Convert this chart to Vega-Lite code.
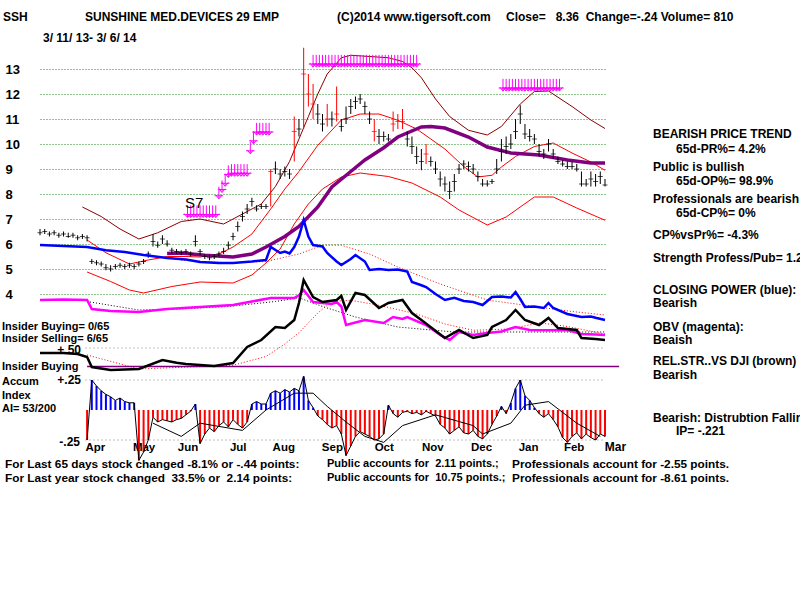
{
"$schema":"https://vega.github.io/schema/vega-lite/v6.json",
"width":565,"height":400,"autosize":"none",
"padding":{"left":40,"top":40,"right":195,"bottom":160},
"background":"white",
"config":{"view":{"stroke":null},"font":"Liberation Sans","text":{"font":"Liberation Sans","color":"black"}},
"datasets":{
"bars":[
{"d":"2013-03-11","hi":6.6,"lo":6.35,"cl":6.45,"m":"dn"},
{"d":"2013-03-14","hi":6.6,"lo":6.4,"cl":6.5,"m":"dn"},
{"d":"2013-03-17","hi":6.5,"lo":6.3,"cl":6.4,"m":"dn"},
{"d":"2013-03-20","hi":6.55,"lo":6.35,"cl":6.45,"m":"dn"},
{"d":"2013-03-23","hi":6.45,"lo":6.25,"cl":6.35,"m":"dn"},
{"d":"2013-03-26","hi":6.5,"lo":6.3,"cl":6.4,"m":"dn"},
{"d":"2013-03-29","hi":6.45,"lo":6.25,"cl":6.3,"m":"dn"},
{"d":"2013-04-01","hi":6.45,"lo":6.25,"cl":6.35,"m":"dn"},
{"d":"2013-04-04","hi":6.35,"lo":6.15,"cl":6.25,"m":"dn"},
{"d":"2013-04-07","hi":6.4,"lo":6.2,"cl":6.3,"m":"dn"},
{"d":"2013-04-10","hi":6.35,"lo":6.1,"cl":6.25,"m":"dn"},
{"d":"2013-04-13","hi":5.4,"lo":5.2,"cl":5.3,"m":"dn"},
{"d":"2013-04-16","hi":5.35,"lo":5.15,"cl":5.25,"m":"dn"},
{"d":"2013-04-19","hi":5.3,"lo":5.1,"cl":5.2,"m":"dn"},
{"d":"2013-04-22","hi":5.2,"lo":4.95,"cl":5.05,"m":"dn"},
{"d":"2013-04-25","hi":5.15,"lo":4.9,"cl":5.0,"m":"dn"},
{"d":"2013-04-28","hi":5.2,"lo":5.0,"cl":5.1,"m":"dn"},
{"d":"2013-05-01","hi":5.25,"lo":5.05,"cl":5.15,"m":"dn"},
{"d":"2013-05-04","hi":5.2,"lo":5.0,"cl":5.1,"m":"dn"},
{"d":"2013-05-07","hi":5.25,"lo":5.05,"cl":5.15,"m":"dn"},
{"d":"2013-05-10","hi":5.2,"lo":5.0,"cl":5.1,"m":"dn"},
{"d":"2013-05-13","hi":5.3,"lo":5.1,"cl":5.2,"m":"dn"},
{"d":"2013-05-16","hi":5.4,"lo":5.2,"cl":5.3,"m":"dn"},
{"d":"2013-05-19","hi":5.7,"lo":5.45,"cl":5.6,"m":"dn"},
{"d":"2013-05-22","hi":6.4,"lo":5.9,"cl":6.1,"m":"dn"},
{"d":"2013-05-25","hi":6.1,"lo":5.85,"cl":5.95,"m":"dn"},
{"d":"2013-05-28","hi":6.35,"lo":6.0,"cl":6.2,"m":"dn"},
{"d":"2013-05-31","hi":6.15,"lo":5.9,"cl":6.0,"m":"dn"},
{"d":"2013-06-03","hi":5.85,"lo":5.6,"cl":5.75,"m":"dn"},
{"d":"2013-06-06","hi":5.8,"lo":5.6,"cl":5.7,"m":"dn"},
{"d":"2013-06-09","hi":5.75,"lo":5.55,"cl":5.65,"m":"dn"},
{"d":"2013-06-12","hi":5.8,"lo":5.6,"cl":5.7,"m":"dn"},
{"d":"2013-06-15","hi":5.7,"lo":5.5,"cl":5.6,"m":"dn"},
{"d":"2013-06-18","hi":6.35,"lo":5.9,"cl":6.1,"m":"dn"},
{"d":"2013-06-21","hi":5.8,"lo":5.55,"cl":5.7,"m":"dn"},
{"d":"2013-06-24","hi":5.6,"lo":5.4,"cl":5.5,"m":"dn"},
{"d":"2013-06-27","hi":5.55,"lo":5.35,"cl":5.45,"m":"dn"},
{"d":"2013-06-30","hi":5.6,"lo":5.4,"cl":5.5,"m":"dn"},
{"d":"2013-07-03","hi":5.7,"lo":5.5,"cl":5.6,"m":"dn"},
{"d":"2013-07-06","hi":5.85,"lo":5.6,"cl":5.7,"m":"dn"},
{"d":"2013-07-09","hi":6.1,"lo":5.8,"cl":5.95,"m":"dn"},
{"d":"2013-07-12","hi":6.45,"lo":6.15,"cl":6.3,"m":"dn"},
{"d":"2013-07-15","hi":6.9,"lo":6.5,"cl":6.7,"m":"dn"},
{"d":"2013-07-18","hi":7.3,"lo":6.9,"cl":7.1,"m":"dn"},
{"d":"2013-07-21","hi":7.6,"lo":7.2,"cl":7.4,"m":"dn"},
{"d":"2013-07-24","hi":7.85,"lo":7.5,"cl":7.7,"m":"dn"},
{"d":"2013-07-27","hi":7.55,"lo":7.3,"cl":7.4,"m":"dn"},
{"d":"2013-07-30","hi":7.6,"lo":7.4,"cl":7.5,"m":"dn"},
{"d":"2013-08-02","hi":7.6,"lo":7.4,"cl":7.5,"m":"dn"},
{"d":"2013-08-05","hi":9.0,"lo":7.5,"cl":8.9,"m":"up"},
{"d":"2013-08-08","hi":9.3,"lo":8.8,"cl":9.0,"m":"dn"},
{"d":"2013-08-11","hi":9.0,"lo":8.6,"cl":8.8,"m":"dn"},
{"d":"2013-08-14","hi":9.1,"lo":8.7,"cl":8.9,"m":"dn"},
{"d":"2013-08-17","hi":9.0,"lo":8.6,"cl":8.8,"m":"dn"},
{"d":"2013-08-20","hi":11.1,"lo":9.3,"cl":10.5,"m":"up"},
{"d":"2013-08-23","hi":11.0,"lo":10.3,"cl":10.6,"m":"dn"},
{"d":"2013-08-26","hi":13.85,"lo":10.6,"cl":12.8,"m":"up"},
{"d":"2013-08-29","hi":12.8,"lo":11.5,"cl":12.0,"m":"up"},
{"d":"2013-09-01","hi":12.4,"lo":11.0,"cl":11.6,"m":"up"},
{"d":"2013-09-04","hi":11.6,"lo":10.8,"cl":11.2,"m":"dn"},
{"d":"2013-09-07","hi":11.2,"lo":10.5,"cl":10.8,"m":"dn"},
{"d":"2013-09-10","hi":11.6,"lo":10.7,"cl":11.0,"m":"up"},
{"d":"2013-09-13","hi":11.3,"lo":10.7,"cl":11.0,"m":"dn"},
{"d":"2013-09-16","hi":12.3,"lo":10.9,"cl":11.2,"m":"up"},
{"d":"2013-09-19","hi":11.0,"lo":10.5,"cl":10.7,"m":"dn"},
{"d":"2013-09-22","hi":11.5,"lo":10.8,"cl":11.0,"m":"dn"},
{"d":"2013-09-25","hi":11.8,"lo":11.2,"cl":11.5,"m":"dn"},
{"d":"2013-09-28","hi":11.9,"lo":11.4,"cl":11.7,"m":"dn"},
{"d":"2013-10-01","hi":12.0,"lo":11.6,"cl":11.8,"m":"dn"},
{"d":"2013-10-04","hi":11.7,"lo":11.2,"cl":11.5,"m":"dn"},
{"d":"2013-10-07","hi":11.3,"lo":10.8,"cl":11.0,"m":"dn"},
{"d":"2013-10-10","hi":11.0,"lo":10.1,"cl":10.5,"m":"up"},
{"d":"2013-10-13","hi":10.6,"lo":10.0,"cl":10.3,"m":"dn"},
{"d":"2013-10-16","hi":10.5,"lo":10.1,"cl":10.3,"m":"dn"},
{"d":"2013-10-19","hi":10.4,"lo":10.1,"cl":10.2,"m":"dn"},
{"d":"2013-10-22","hi":11.3,"lo":10.5,"cl":10.8,"m":"up"},
{"d":"2013-10-25","hi":11.2,"lo":10.6,"cl":10.9,"m":"up"},
{"d":"2013-10-28","hi":11.4,"lo":10.6,"cl":10.9,"m":"up"},
{"d":"2013-10-31","hi":10.5,"lo":9.9,"cl":10.2,"m":"dn"},
{"d":"2013-11-03","hi":10.3,"lo":9.6,"cl":9.9,"m":"dn"},
{"d":"2013-11-06","hi":9.9,"lo":9.2,"cl":9.5,"m":"dn"},
{"d":"2013-11-09","hi":9.8,"lo":8.95,"cl":9.3,"m":"dn"},
{"d":"2013-11-12","hi":10.0,"lo":9.2,"cl":9.6,"m":"up"},
{"d":"2013-11-15","hi":9.5,"lo":9.1,"cl":9.3,"m":"dn"},
{"d":"2013-11-18","hi":9.3,"lo":8.8,"cl":9.0,"m":"dn"},
{"d":"2013-11-21","hi":8.9,"lo":8.3,"cl":8.6,"m":"dn"},
{"d":"2013-11-24","hi":8.7,"lo":8.1,"cl":8.4,"m":"dn"},
{"d":"2013-11-27","hi":8.5,"lo":7.8,"cl":8.1,"m":"dn"},
{"d":"2013-11-30","hi":8.8,"lo":8.1,"cl":8.5,"m":"dn"},
{"d":"2013-12-03","hi":9.2,"lo":8.8,"cl":9.0,"m":"dn"},
{"d":"2013-12-06","hi":9.35,"lo":9.0,"cl":9.2,"m":"dn"},
{"d":"2013-12-09","hi":9.3,"lo":8.9,"cl":9.1,"m":"dn"},
{"d":"2013-12-12","hi":9.2,"lo":8.8,"cl":9.0,"m":"dn"},
{"d":"2013-12-15","hi":8.9,"lo":8.5,"cl":8.7,"m":"dn"},
{"d":"2013-12-18","hi":8.6,"lo":8.3,"cl":8.4,"m":"dn"},
{"d":"2013-12-21","hi":8.55,"lo":8.3,"cl":8.4,"m":"dn"},
{"d":"2013-12-24","hi":8.6,"lo":8.4,"cl":8.5,"m":"dn"},
{"d":"2013-12-27","hi":9.4,"lo":8.8,"cl":9.0,"m":"dn"},
{"d":"2013-12-30","hi":10.2,"lo":9.3,"cl":9.7,"m":"dn"},
{"d":"2014-01-02","hi":10.3,"lo":9.6,"cl":9.9,"m":"dn"},
{"d":"2014-01-05","hi":10.4,"lo":9.8,"cl":10.0,"m":"dn"},
{"d":"2014-01-08","hi":11.0,"lo":10.2,"cl":10.5,"m":"dn"},
{"d":"2014-01-11","hi":11.55,"lo":10.8,"cl":11.2,"m":"dn"},
{"d":"2014-01-14","hi":10.8,"lo":10.2,"cl":10.4,"m":"dn"},
{"d":"2014-01-17","hi":10.6,"lo":10.1,"cl":10.3,"m":"dn"},
{"d":"2014-01-20","hi":10.4,"lo":10.0,"cl":10.2,"m":"dn"},
{"d":"2014-01-23","hi":10.0,"lo":9.5,"cl":9.7,"m":"dn"},
{"d":"2014-01-26","hi":9.8,"lo":9.4,"cl":9.6,"m":"dn"},
{"d":"2014-01-29","hi":10.2,"lo":9.7,"cl":10.0,"m":"dn"},
{"d":"2014-02-01","hi":9.8,"lo":9.4,"cl":9.6,"m":"dn"},
{"d":"2014-02-04","hi":9.5,"lo":9.2,"cl":9.3,"m":"dn"},
{"d":"2014-02-07","hi":9.35,"lo":9.1,"cl":9.2,"m":"dn"},
{"d":"2014-02-10","hi":9.3,"lo":9.0,"cl":9.1,"m":"dn"},
{"d":"2014-02-13","hi":9.3,"lo":9.0,"cl":9.1,"m":"dn"},
{"d":"2014-02-16","hi":9.2,"lo":8.9,"cl":9.0,"m":"dn"},
{"d":"2014-02-19","hi":8.9,"lo":8.3,"cl":8.4,"m":"dn"},
{"d":"2014-02-22","hi":8.6,"lo":8.3,"cl":8.4,"m":"dn"},
{"d":"2014-02-25","hi":8.9,"lo":8.3,"cl":8.6,"m":"dn"},
{"d":"2014-02-28","hi":8.8,"lo":8.3,"cl":8.5,"m":"dn"},
{"d":"2014-03-03","hi":8.9,"lo":8.4,"cl":8.7,"m":"dn"},
{"d":"2014-03-06","hi":8.6,"lo":8.3,"cl":8.36,"m":"dn"}
],
"upper":[
{"d":"2013-04-07","v":7.48},{"d":"2013-04-19","v":7.1},{"d":"2013-05-01","v":6.6},{"d":"2013-05-13","v":6.2},{"d":"2013-05-25","v":6.45},{"d":"2013-06-09","v":6.9},{"d":"2013-06-21","v":7.0},{"d":"2013-07-06","v":6.8},{"d":"2013-07-18","v":7.2},{"d":"2013-07-30","v":7.6},{"d":"2013-08-08","v":8.3},{"d":"2013-08-17","v":9.3},{"d":"2013-08-23","v":10.2},{"d":"2013-08-29","v":11.1},{"d":"2013-09-04","v":12.0},{"d":"2013-09-10","v":12.8},{"d":"2013-09-19","v":13.45},{"d":"2013-09-25","v":13.55},{"d":"2013-10-07","v":13.5},{"d":"2013-10-19","v":13.45},{"d":"2013-10-28","v":13.3},{"d":"2013-11-03","v":13.05},{"d":"2013-11-09","v":12.65},{"d":"2013-11-18","v":11.8},{"d":"2013-11-27","v":11.1},{"d":"2013-12-09","v":10.55},{"d":"2013-12-21","v":10.36},{"d":"2013-12-30","v":10.7},{"d":"2014-01-11","v":11.6},{"d":"2014-01-20","v":12.1},{"d":"2014-01-29","v":12.12},{"d":"2014-02-13","v":11.5},{"d":"2014-02-25","v":10.96},{"d":"2014-03-06","v":10.62}
],
"ma":[
{"d":"2013-04-10","v":6.16},{"d":"2013-04-22","v":5.65},{"d":"2013-05-07","v":5.2},{"d":"2013-05-19","v":5.36},{"d":"2013-05-31","v":5.5},{"d":"2013-06-12","v":5.5},{"d":"2013-06-21","v":5.48},{"d":"2013-07-03","v":5.6},{"d":"2013-07-12","v":5.88},{"d":"2013-07-24","v":6.4},{"d":"2013-08-05","v":7.4},{"d":"2013-08-14","v":8.2},{"d":"2013-08-23","v":8.9},{"d":"2013-09-04","v":9.95},{"d":"2013-09-19","v":10.96},{"d":"2013-10-01","v":11.2},{"d":"2013-10-13","v":11.2},{"d":"2013-10-25","v":10.95},{"d":"2013-11-06","v":10.6},{"d":"2013-11-15","v":10.2},{"d":"2013-11-24","v":9.8},{"d":"2013-12-06","v":9.1},{"d":"2013-12-15","v":8.68},{"d":"2013-12-24","v":8.75},{"d":"2013-12-30","v":9.08},{"d":"2014-01-08","v":9.5},{"d":"2014-01-20","v":9.9},{"d":"2014-02-01","v":10.04},{"d":"2014-02-13","v":9.64},{"d":"2014-02-25","v":9.28},{"d":"2014-03-06","v":8.95}
],
"lower":[
{"d":"2013-04-10","v":4.88},{"d":"2013-04-25","v":4.5},{"d":"2013-05-07","v":4.16},{"d":"2013-05-16","v":4.04},{"d":"2013-06-03","v":4.3},{"d":"2013-06-21","v":4.48},{"d":"2013-07-12","v":4.44},{"d":"2013-07-24","v":4.76},{"d":"2013-08-02","v":5.24},{"d":"2013-08-11","v":5.8},{"d":"2013-08-20","v":6.8},{"d":"2013-08-29","v":7.6},{"d":"2013-09-07","v":8.2},{"d":"2013-09-19","v":8.68},{"d":"2013-10-01","v":8.84},{"d":"2013-10-19","v":8.7},{"d":"2013-11-03","v":8.44},{"d":"2013-11-21","v":7.88},{"d":"2013-12-03","v":7.36},{"d":"2013-12-21","v":6.76},{"d":"2014-01-02","v":7.08},{"d":"2014-01-20","v":7.88},{"d":"2014-02-01","v":7.88},{"d":"2014-02-16","v":7.44},{"d":"2014-03-06","v":6.95}
],
"ma65":[
{"d":"2013-05-31","v":5.62},{"d":"2013-06-09","v":5.64},{"d":"2013-06-24","v":5.55},{"d":"2013-07-12","v":5.48},{"d":"2013-07-24","v":5.6},{"d":"2013-08-02","v":5.88},{"d":"2013-08-14","v":6.3},{"d":"2013-08-23","v":6.7},{"d":"2013-09-04","v":7.48},{"d":"2013-09-13","v":8.28},{"d":"2013-09-25","v":8.9},{"d":"2013-10-04","v":9.36},{"d":"2013-10-16","v":9.85},{"d":"2013-10-25","v":10.28},{"d":"2013-11-09","v":10.68},{"d":"2013-11-15","v":10.7},{"d":"2013-11-24","v":10.64},{"d":"2013-12-09","v":10.28},{"d":"2013-12-21","v":9.88},{"d":"2014-01-05","v":9.64},{"d":"2014-01-23","v":9.56},{"d":"2014-02-10","v":9.36},{"d":"2014-02-25","v":9.24},{"d":"2014-03-06","v":9.24}
],
"cp":[
{"d":"2013-03-11","v":5.96},{"d":"2013-03-26","v":5.92},{"d":"2013-04-10","v":5.88},{"d":"2013-04-22","v":5.75},{"d":"2013-05-04","v":5.68},{"d":"2013-05-16","v":5.56},{"d":"2013-05-31","v":5.44},{"d":"2013-06-12","v":5.38},{"d":"2013-06-21","v":5.28},{"d":"2013-07-03","v":5.24},{"d":"2013-07-12","v":5.24},{"d":"2013-07-24","v":5.3},{"d":"2013-08-02","v":5.36},{"d":"2013-08-05","v":5.88},{"d":"2013-08-11","v":5.64},{"d":"2013-08-14","v":5.7},{"d":"2013-08-17","v":5.62},{"d":"2013-08-20","v":5.88},{"d":"2013-08-23","v":6.3},{"d":"2013-08-26","v":6.96},{"d":"2013-08-29","v":6.3},{"d":"2013-09-01","v":5.96},{"d":"2013-09-07","v":5.9},{"d":"2013-09-10","v":5.64},{"d":"2013-09-16","v":5.3},{"d":"2013-09-19","v":5.16},{"d":"2013-09-25","v":5.4},{"d":"2013-09-28","v":5.56},{"d":"2013-10-04","v":5.3},{"d":"2013-10-07","v":4.96},{"d":"2013-10-13","v":5.0},{"d":"2013-10-19","v":4.96},{"d":"2013-10-25","v":4.98},{"d":"2013-10-31","v":4.9},{"d":"2013-11-03","v":4.48},{"d":"2013-11-09","v":4.35},{"d":"2013-11-12","v":4.28},{"d":"2013-11-18","v":4.0},{"d":"2013-11-24","v":3.76},{"d":"2013-11-30","v":3.85},{"d":"2013-12-06","v":3.72},{"d":"2013-12-12","v":3.68},{"d":"2013-12-18","v":3.56},{"d":"2013-12-24","v":3.88},{"d":"2013-12-30","v":3.9},{"d":"2014-01-05","v":3.86},{"d":"2014-01-08","v":4.08},{"d":"2014-01-11","v":3.8},{"d":"2014-01-14","v":3.48},{"d":"2014-01-20","v":3.5},{"d":"2014-01-26","v":3.44},{"d":"2014-01-29","v":3.64},{"d":"2014-02-01","v":3.44},{"d":"2014-02-10","v":3.2},{"d":"2014-02-19","v":3.08},{"d":"2014-02-25","v":3.1},{"d":"2014-02-28","v":3.05},{"d":"2014-03-06","v":2.96}
],
"cpMa":[
{"d":"2013-06-09","v":5.35},{"d":"2013-07-09","v":5.25},{"d":"2013-08-02","v":5.3},{"d":"2013-08-23","v":5.6},{"d":"2013-09-07","v":5.95},{"d":"2013-09-19","v":5.95},{"d":"2013-10-07","v":5.6},{"d":"2013-10-25","v":5.08},{"d":"2013-11-21","v":4.4},{"d":"2013-12-21","v":3.76},{"d":"2014-01-20","v":3.5},{"d":"2014-02-13","v":3.3},{"d":"2014-03-06","v":3.16}
],
"obv":[
{"d":"2013-03-11","v":3.76},{"d":"2013-03-26","v":3.78},{"d":"2013-04-10","v":3.76},{"d":"2013-04-13","v":3.4},{"d":"2013-04-25","v":3.32},{"d":"2013-05-13","v":3.28},{"d":"2013-05-31","v":3.4},{"d":"2013-06-21","v":3.48},{"d":"2013-07-12","v":3.56},{"d":"2013-07-24","v":3.7},{"d":"2013-08-05","v":3.84},{"d":"2013-08-20","v":3.84},{"d":"2013-08-23","v":3.95},{"d":"2013-08-26","v":4.16},{"d":"2013-09-01","v":3.68},{"d":"2013-09-13","v":3.6},{"d":"2013-09-16","v":3.68},{"d":"2013-09-19","v":3.5},{"d":"2013-09-22","v":2.76},{"d":"2013-10-04","v":2.96},{"d":"2013-10-16","v":2.84},{"d":"2013-10-22","v":3.08},{"d":"2013-10-28","v":3.0},{"d":"2013-10-31","v":3.08},{"d":"2013-11-12","v":2.76},{"d":"2013-11-21","v":2.36},{"d":"2013-11-27","v":2.16},{"d":"2013-12-03","v":2.48},{"d":"2013-12-12","v":2.36},{"d":"2013-12-21","v":2.44},{"d":"2013-12-30","v":2.5},{"d":"2014-01-08","v":2.68},{"d":"2014-01-17","v":2.56},{"d":"2014-01-29","v":2.55},{"d":"2014-02-10","v":2.56},{"d":"2014-02-19","v":2.4},{"d":"2014-02-28","v":2.38},{"d":"2014-03-06","v":2.36}
],
"obvMa":[
{"d":"2013-04-10","v":3.7},{"d":"2013-05-13","v":3.36},{"d":"2013-06-09","v":3.4},{"d":"2013-07-09","v":3.5},{"d":"2013-08-08","v":3.7},{"d":"2013-08-23","v":3.85},{"d":"2013-09-07","v":3.5},{"d":"2013-09-28","v":3.08},{"d":"2013-10-25","v":2.68},{"d":"2013-11-30","v":2.48},{"d":"2014-01-11","v":2.48},{"d":"2014-03-06","v":2.48}
],
"rs":[
{"d":"2013-03-11","v":1.64},{"d":"2013-03-26","v":1.64},{"d":"2013-04-04","v":1.6},{"d":"2013-04-10","v":1.48},{"d":"2013-04-13","v":1.08},{"d":"2013-04-25","v":0.96},{"d":"2013-05-13","v":1.0},{"d":"2013-05-28","v":1.36},{"d":"2013-06-06","v":1.25},{"d":"2013-06-12","v":1.2},{"d":"2013-06-30","v":1.12},{"d":"2013-07-12","v":1.24},{"d":"2013-07-21","v":1.88},{"d":"2013-07-30","v":2.16},{"d":"2013-08-08","v":2.68},{"d":"2013-08-14","v":2.64},{"d":"2013-08-20","v":2.96},{"d":"2013-08-23","v":3.64},{"d":"2013-08-26","v":4.56},{"d":"2013-09-01","v":3.88},{"d":"2013-09-07","v":3.68},{"d":"2013-09-16","v":3.76},{"d":"2013-09-19","v":3.92},{"d":"2013-09-22","v":3.36},{"d":"2013-09-28","v":4.04},{"d":"2013-10-04","v":3.96},{"d":"2013-10-13","v":3.44},{"d":"2013-10-19","v":3.64},{"d":"2013-10-28","v":3.76},{"d":"2013-11-03","v":3.24},{"d":"2013-11-09","v":2.96},{"d":"2013-11-24","v":2.24},{"d":"2013-12-03","v":2.56},{"d":"2013-12-12","v":2.24},{"d":"2013-12-21","v":2.36},{"d":"2013-12-24","v":2.68},{"d":"2014-01-02","v":2.96},{"d":"2014-01-08","v":3.36},{"d":"2014-01-14","v":2.96},{"d":"2014-01-23","v":2.76},{"d":"2014-01-29","v":3.04},{"d":"2014-02-04","v":2.64},{"d":"2014-02-16","v":2.56},{"d":"2014-02-19","v":2.24},{"d":"2014-02-28","v":2.2},{"d":"2014-03-06","v":2.16}
],
"rsMa":[
{"d":"2013-04-10","v":1.56},{"d":"2013-05-13","v":1.0},{"d":"2013-07-12","v":1.15},{"d":"2013-08-02","v":1.5},{"d":"2013-08-14","v":2.0},{"d":"2013-08-23","v":2.45},{"d":"2013-09-04","v":3.24},{"d":"2013-09-13","v":3.7},{"d":"2013-09-25","v":3.75},{"d":"2013-10-13","v":3.55},{"d":"2013-11-06","v":3.2},{"d":"2013-11-24","v":2.8},{"d":"2013-12-12","v":2.55},{"d":"2014-01-05","v":2.6},{"d":"2014-01-23","v":2.85},{"d":"2014-02-10","v":2.7},{"d":"2014-03-06","v":2.4}
],
"ai":[
{"d":"2013-04-10","a":-0.25},{"d":"2013-04-13","a":0.25},{"d":"2013-04-16","a":0.2},{"d":"2013-04-19","a":0.16},{"d":"2013-04-22","a":0.13},{"d":"2013-04-25","a":0.11},{"d":"2013-04-28","a":0.08},{"d":"2013-05-01","a":0.1},{"d":"2013-05-04","a":0.07},{"d":"2013-05-07","a":0.06},{"d":"2013-05-10","a":0.06},{"d":"2013-05-13","a":-0.42},{"d":"2013-05-16","a":-0.35},{"d":"2013-05-19","a":-0.25},{"d":"2013-05-22","a":-0.06},{"d":"2013-05-25","a":-0.1},{"d":"2013-05-28","a":-0.08},{"d":"2013-05-31","a":-0.09},{"d":"2013-06-03","a":-0.1},{"d":"2013-06-06","a":-0.08},{"d":"2013-06-09","a":-0.07},{"d":"2013-06-12","a":-0.04},{"d":"2013-06-15","a":-0.01},{"d":"2013-06-18","a":0.05},{"d":"2013-06-21","a":-0.28},{"d":"2013-06-24","a":-0.2},{"d":"2013-06-27","a":-0.15},{"d":"2013-06-30","a":-0.18},{"d":"2013-07-03","a":-0.13},{"d":"2013-07-06","a":-0.1},{"d":"2013-07-09","a":-0.14},{"d":"2013-07-12","a":-0.08},{"d":"2013-07-15","a":-0.12},{"d":"2013-07-18","a":-0.15},{"d":"2013-07-21","a":-0.1},{"d":"2013-07-24","a":0.05},{"d":"2013-07-27","a":0.07},{"d":"2013-07-30","a":0.05},{"d":"2013-08-02","a":0.05},{"d":"2013-08-05","a":0.14},{"d":"2013-08-08","a":0.16},{"d":"2013-08-11","a":0.14},{"d":"2013-08-14","a":0.17},{"d":"2013-08-17","a":0.15},{"d":"2013-08-20","a":0.18},{"d":"2013-08-23","a":0.16},{"d":"2013-08-26","a":0.28},{"d":"2013-08-29","a":0.08},{"d":"2013-09-01","a":0.02},{"d":"2013-09-04","a":-0.05},{"d":"2013-09-07","a":-0.08},{"d":"2013-09-10","a":-0.12},{"d":"2013-09-13","a":-0.15},{"d":"2013-09-16","a":-0.13},{"d":"2013-09-19","a":-0.2},{"d":"2013-09-22","a":-0.38},{"d":"2013-09-25","a":-0.3},{"d":"2013-09-28","a":-0.22},{"d":"2013-10-01","a":-0.18},{"d":"2013-10-04","a":-0.2},{"d":"2013-10-07","a":-0.22},{"d":"2013-10-10","a":-0.25},{"d":"2013-10-13","a":-0.24},{"d":"2013-10-16","a":-0.2},{"d":"2013-10-19","a":0.04},{"d":"2013-10-22","a":-0.03},{"d":"2013-10-25","a":-0.06},{"d":"2013-10-28","a":-0.02},{"d":"2013-10-31","a":-0.01},{"d":"2013-11-03","a":-0.03},{"d":"2013-11-06","a":-0.02},{"d":"2013-11-09","a":-0.04},{"d":"2013-11-12","a":-0.01},{"d":"2013-11-15","a":-0.03},{"d":"2013-11-18","a":-0.05},{"d":"2013-11-21","a":-0.12},{"d":"2013-11-24","a":-0.15},{"d":"2013-11-27","a":-0.2},{"d":"2013-11-30","a":-0.17},{"d":"2013-12-03","a":-0.14},{"d":"2013-12-06","a":-0.19},{"d":"2013-12-09","a":-0.2},{"d":"2013-12-12","a":-0.17},{"d":"2013-12-15","a":-0.22},{"d":"2013-12-18","a":-0.24},{"d":"2013-12-21","a":-0.2},{"d":"2013-12-24","a":-0.12},{"d":"2013-12-27","a":-0.05},{"d":"2013-12-30","a":0.03},{"d":"2014-01-02","a":-0.03},{"d":"2014-01-05","a":0.06},{"d":"2014-01-08","a":0.18},{"d":"2014-01-11","a":0.25},{"d":"2014-01-14","a":0.12},{"d":"2014-01-17","a":0.08},{"d":"2014-01-20","a":0.02},{"d":"2014-01-23","a":-0.03},{"d":"2014-01-26","a":-0.06},{"d":"2014-01-29","a":-0.03},{"d":"2014-02-01","a":-0.08},{"d":"2014-02-04","a":-0.14},{"d":"2014-02-07","a":-0.23},{"d":"2014-02-10","a":-0.27},{"d":"2014-02-13","a":-0.22},{"d":"2014-02-16","a":-0.19},{"d":"2014-02-19","a":-0.24},{"d":"2014-02-22","a":-0.2},{"d":"2014-02-25","a":-0.23},{"d":"2014-02-28","a":-0.25},{"d":"2014-03-03","a":-0.2},{"d":"2014-03-06","a":-0.22}
],
"aiMa":[
{"d":"2013-05-22","a":-0.11},{"d":"2013-06-09","a":-0.22},{"d":"2013-06-21","a":-0.11},{"d":"2013-07-18","a":-0.17},{"d":"2013-08-02","a":0.0},{"d":"2013-08-20","a":0.14},{"d":"2013-09-01","a":0.14},{"d":"2013-09-10","a":0.03},{"d":"2013-09-22","a":-0.1},{"d":"2013-10-04","a":-0.22},{"d":"2013-10-16","a":-0.27},{"d":"2013-10-28","a":-0.13},{"d":"2013-11-18","a":-0.04},{"d":"2013-12-12","a":-0.13},{"d":"2013-12-18","a":-0.2},{"d":"2014-01-05","a":-0.11},{"d":"2014-01-14","a":0.04},{"d":"2014-01-29","a":0.07},{"d":"2014-02-16","a":-0.11},{"d":"2014-03-03","a":-0.22}
],
"arrows":[
{"d":"2013-06-13","v":7.3},{"d":"2013-06-15","v":7.3},{"d":"2013-06-17","v":7.3},{"d":"2013-06-19","v":7.3},{"d":"2013-06-21","v":7.3},{"d":"2013-06-23","v":7.3},{"d":"2013-06-25","v":7.3},{"d":"2013-06-27","v":7.3},{"d":"2013-06-29","v":7.3},{"d":"2013-07-01","v":7.3},
{"d":"2013-07-03","v":8.05},{"d":"2013-07-05","v":8.3},{"d":"2013-07-07","v":8.55},{"d":"2013-07-09","v":8.9},{"d":"2013-07-11","v":8.95},{"d":"2013-07-13","v":8.95},{"d":"2013-07-15","v":8.95},{"d":"2013-07-17","v":8.95},{"d":"2013-07-19","v":8.95},{"d":"2013-07-21","v":8.95},{"d":"2013-07-23","v":9.85},{"d":"2013-07-25","v":10.25},{"d":"2013-07-27","v":10.6},{"d":"2013-07-29","v":10.6},{"d":"2013-07-31","v":10.6},{"d":"2013-08-02","v":10.6},{"d":"2013-08-04","v":10.6},
{"d":"2013-09-01","v":13.32},{"d":"2013-09-03","v":13.32},{"d":"2013-09-05","v":13.32},{"d":"2013-09-07","v":13.32},{"d":"2013-09-09","v":13.32},{"d":"2013-09-11","v":13.32},{"d":"2013-09-13","v":13.32},{"d":"2013-09-15","v":13.32},{"d":"2013-09-17","v":13.32},{"d":"2013-09-19","v":13.32},{"d":"2013-09-21","v":13.32},{"d":"2013-09-23","v":13.32},{"d":"2013-09-25","v":13.32},{"d":"2013-09-27","v":13.32},{"d":"2013-09-29","v":13.32},{"d":"2013-10-01","v":13.32},{"d":"2013-10-03","v":13.32},{"d":"2013-10-05","v":13.32},{"d":"2013-10-07","v":13.32},{"d":"2013-10-09","v":13.32},{"d":"2013-10-11","v":13.32},{"d":"2013-10-13","v":13.32},{"d":"2013-10-15","v":13.32},{"d":"2013-10-17","v":13.32},{"d":"2013-10-19","v":13.32},{"d":"2013-10-21","v":13.32},{"d":"2013-10-23","v":13.32},{"d":"2013-10-25","v":13.32},{"d":"2013-10-27","v":13.32},{"d":"2013-10-29","v":13.32},{"d":"2013-10-31","v":13.32},{"d":"2013-11-02","v":13.32},{"d":"2013-11-04","v":13.32},{"d":"2013-11-06","v":13.32},
{"d":"2013-12-31","v":12.36},{"d":"2014-01-02","v":12.36},{"d":"2014-01-04","v":12.36},{"d":"2014-01-06","v":12.36},{"d":"2014-01-08","v":12.36},{"d":"2014-01-10","v":12.36},{"d":"2014-01-12","v":12.36},{"d":"2014-01-14","v":12.36},{"d":"2014-01-16","v":12.36},{"d":"2014-01-18","v":12.36},{"d":"2014-01-20","v":12.36},{"d":"2014-01-22","v":12.36},{"d":"2014-01-24","v":12.36},{"d":"2014-01-26","v":12.36},{"d":"2014-01-28","v":12.36},{"d":"2014-01-30","v":12.36},{"d":"2014-02-01","v":12.36},{"d":"2014-02-03","v":12.36},{"d":"2014-02-05","v":12.36}
],
"levels":[{"v":1.84},{"v":0.56},{"v":-1.84}],
"insider":[{"v":1.1}],
"hdr":[
{"d":"2013-02-15T10:00:00Z","v":15.08,"t":"SSH"},
{"d":"2013-04-08T16:00:00Z","v":15.08,"t":"SUNSHINE MED.DEVICES 29 EMP"},
{"d":"2013-09-16T06:00:00Z","v":15.08,"t":"(C)2014 www.tigersoft.com"},
{"d":"2014-01-01T22:00:00Z","v":15.08,"t":"Close=\u00a0\u00a0 8.36\u00a0\u00a0Change=-.24 Volume= 810"},
{"d":"2013-03-12T22:00:00Z","v":14.23,"t":"3/ 11/ 13- 3/ 6/ 14"},
{"d":"2014-04-05T14:00:00Z","v":10.4,"t":"BEARISH PRICE TREND"},
{"d":"2014-04-20T06:00:00Z","v":9.8,"t":"65d-PR%= 4.2%"},
{"d":"2014-04-05T14:00:00Z","v":9.08,"t":"Public is bullish"},
{"d":"2014-04-20T06:00:00Z","v":8.52,"t":"65d-OP%= 98.9%"},
{"d":"2014-04-05T14:00:00Z","v":7.8,"t":"Professionals are bearish"},
{"d":"2014-04-20T06:00:00Z","v":7.24,"t":"65d-CP%= 0%"},
{"d":"2014-04-05T14:00:00Z","v":6.36,"t":"CP%vsPr%= -4.3%"},
{"d":"2014-04-05T14:00:00Z","v":5.44,"t":"Strength Profess/Pub= 1.2"},
{"d":"2014-04-05T14:00:00Z","v":4.16,"t":"CLOSING POWER (blue):"},
{"d":"2014-04-05T14:00:00Z","v":3.63,"t":"Bearish"},
{"d":"2014-04-05T14:00:00Z","v":2.69,"t":"OBV (magenta):"},
{"d":"2014-04-05T14:00:00Z","v":2.16,"t":"Beaish"},
{"d":"2014-04-05T14:00:00Z","v":1.33,"t":"REL.STR..VS DJI (brown)"},
{"d":"2014-04-05T14:00:00Z","v":0.76,"t":"Bearish"},
{"d":"2014-04-05T14:00:00Z","v":-0.94,"t":"Bearish: Distrubtion Falling"},
{"d":"2014-04-20T06:00:00Z","v":-1.48,"t":"IP= -.221"}
],
"left":[
{"d":"2013-02-14T19:00:00Z","v":2.68,"t":"Insider Buying= 0/65"},
{"d":"2013-02-14T19:00:00Z","v":2.2,"t":"Insider Selling= 6/65"},
{"d":"2013-02-14T19:00:00Z","v":1.08,"t":"Insider Buying"},
{"d":"2013-02-14T19:00:00Z","v":0.5,"t":"Accum"},
{"d":"2013-02-14T19:00:00Z","v":-0.06,"t":"Index"},
{"d":"2013-02-14T19:00:00Z","v":-0.6,"t":"AI= 53/200"}
],
"scaleLabels":[
{"d":"2013-04-06T03:00:00Z","v":1.76,"t":"+.50"},
{"d":"2013-04-06T03:00:00Z","v":0.56,"t":"+.25"},
{"d":"2013-04-05T12:00:00Z","v":-1.9,"t":"-.25"},
{"d":"2014-03-19T12:00:00Z","v":-2.12,"t":"Mar"}
],
"foot":[
{"d":"2013-02-16T17:00:00Z","v":-2.8,"t":"For Last 65 days stock changed -8.1% or -.44 points:"},
{"d":"2014-01-05T18:00:00Z","v":-2.8,"t":"Professionals account for -2.55 points."},
{"d":"2013-02-16T17:00:00Z","v":-3.34,"t":"For Last year stock changed\u00a0\u00a033.5% or\u00a0\u00a02.14 points:"},
{"d":"2014-01-05T18:00:00Z","v":-3.34,"t":"Professionals account for -8.61 points."}
],
"footMid":[
{"d":"2013-09-09T21:00:00Z","v":-2.8,"t":"Public accounts for\u00a0\u00a02.11 points.;"},
{"d":"2013-09-09T21:00:00Z","v":-3.34,"t":"Public accounts for\u00a0\u00a010.75 points.;"}
],
"sig":[{"d":"2013-06-11T09:00:00Z","v":7.64,"t":"S7"}]
},
"layer":[
{"layer":[
{"data":{"name":"upper"},"mark":{"type":"line","color":"#8b0000","strokeWidth":1},
 "encoding":{
  "x":{"field":"d","type":"temporal","title":null,
   "scale":{"type":"utc","domain":[{"year":2013,"month":3,"date":11,"utc":true},{"year":2014,"month":3,"date":6,"utc":true}]},
   "axis":{"values":[{"year":2013,"month":4,"date":15,"utc":true},{"year":2013,"month":5,"date":16,"utc":true},{"year":2013,"month":6,"date":13,"utc":true},{"year":2013,"month":7,"date":15,"utc":true},{"year":2013,"month":8,"date":13,"utc":true},{"year":2013,"month":9,"date":13,"utc":true},{"year":2013,"month":10,"date":16,"utc":true},{"year":2013,"month":11,"date":16,"utc":true},{"year":2013,"month":12,"date":17,"utc":true},{"year":2014,"month":1,"date":16,"utc":true},{"year":2014,"month":2,"date":14,"utc":true}],
    "format":"%b","labelFont":"Liberation Sans","labelFontWeight":"bold","labelFontSize":11.5,"labelColor":"black","ticks":false,"tickSize":0,"domain":false,"grid":false,"labelPadding":1,"labelFlush":false,"labelOverlap":false,"title":null}},
  "y":{"field":"v","type":"quantitative","title":null,
   "scale":{"domain":[-1.84,14.16],"nice":false,"zero":false},
   "axis":{"values":[4,5,6,7,8,9,10,11,12,13],"grid":true,"gridColor":"#1e8c1e","gridDash":[1,2],"gridWidth":1,"ticks":false,"tickSize":0,"domain":false,"labelAlign":"left","labelPadding":35,"labelFont":"Liberation Sans","labelFontWeight":"bold","labelFontSize":13,"labelColor":"black","title":null}}}},
{"data":{"name":"ma"},"mark":{"type":"line","color":"#ff0000","strokeWidth":1},
 "encoding":{"x":{"field":"d","type":"temporal","title":null},"y":{"field":"v","type":"quantitative","title":null}}},
{"data":{"name":"lower"},"mark":{"type":"line","color":"#ff0000","strokeWidth":1},
 "encoding":{"x":{"field":"d","type":"temporal","title":null},"y":{"field":"v","type":"quantitative","title":null}}},
{"data":{"name":"ma65"},"mark":{"type":"line","color":"#800080","strokeWidth":3.5},
 "encoding":{"x":{"field":"d","type":"temporal","title":null},"y":{"field":"v","type":"quantitative","title":null}}},
{"data":{"name":"bars"},"mark":{"type":"rule","strokeWidth":1},
 "encoding":{"x":{"field":"d","type":"temporal","title":null},"y":{"field":"lo","type":"quantitative","title":null},"y2":{"field":"hi"},
  "color":{"field":"m","type":"nominal","scale":{"domain":["dn","up"],"range":["#000000","#ff0000"]},"legend":null}}},
{"data":{"name":"bars"},"mark":{"type":"tick","orient":"horizontal","size":5,"thickness":1},
 "encoding":{"x":{"field":"d","type":"temporal","title":null},"y":{"field":"cl","type":"quantitative","title":null},
  "color":{"field":"m","type":"nominal","legend":null}}},
{"data":{"name":"cpMa"},"mark":{"type":"line","color":"#ff0000","strokeWidth":1,"strokeDash":[1,2]},
 "encoding":{"x":{"field":"d","type":"temporal","title":null},"y":{"field":"v","type":"quantitative","title":null}}},
{"data":{"name":"obvMa"},"mark":{"type":"line","color":"#000000","strokeWidth":1,"strokeDash":[1,2]},
 "encoding":{"x":{"field":"d","type":"temporal","title":null},"y":{"field":"v","type":"quantitative","title":null}}},
{"data":{"name":"rsMa"},"mark":{"type":"line","color":"#ff0000","strokeWidth":1,"strokeDash":[1,2]},
 "encoding":{"x":{"field":"d","type":"temporal","title":null},"y":{"field":"v","type":"quantitative","title":null}}},
{"data":{"name":"levels"},"mark":{"type":"rule","color":"#808080","strokeWidth":1,"strokeDash":[1,3]},
 "encoding":{"x":{"datum":{"year":2013,"month":4,"date":9,"utc":true},"type":"temporal"},"x2":{"datum":{"year":2014,"month":3,"date":6,"utc":true}},"y":{"field":"v","type":"quantitative","title":null}}},
{"data":{"name":"insider"},"mark":{"type":"rule","color":"#800080","strokeWidth":1.5},
 "encoding":{"x":{"datum":{"year":2013,"month":4,"date":10,"utc":true},"type":"temporal"},"x2":{"datum":{"year":2014,"month":3,"date":15,"utc":true}},"y":{"field":"v","type":"quantitative","title":null}}},
{"data":{"name":"cp"},"mark":{"type":"line","color":"#0000ff","strokeWidth":2.5},
 "encoding":{"x":{"field":"d","type":"temporal","title":null},"y":{"field":"v","type":"quantitative","title":null}}},
{"data":{"name":"obv"},"mark":{"type":"line","color":"#ff00ff","strokeWidth":2.5},
 "encoding":{"x":{"field":"d","type":"temporal","title":null},"y":{"field":"v","type":"quantitative","title":null}}},
{"data":{"name":"rs"},"mark":{"type":"line","color":"#000000","strokeWidth":2.5},
 "encoding":{"x":{"field":"d","type":"temporal","title":null},"y":{"field":"v","type":"quantitative","title":null}}},
{"data":{"name":"arrows"},"mark":{"type":"point","shape":"M0,-1L0,0.9M-0.5,0.35L0,1L0.5,0.35M-0.7,0.5L0.7,0.5","size":150,"filled":false,"color":"#ff00ff","strokeWidth":1,"opacity":1},
 "encoding":{"x":{"field":"d","type":"temporal","title":null},"y":{"field":"v","type":"quantitative","title":null}}},
{"data":{"name":"hdr"},"mark":{"type":"text","align":"left","baseline":"middle","fontSize":12,"fontWeight":"bold","font":"Liberation Sans"},
 "encoding":{"x":{"field":"d","type":"temporal","title":null},"y":{"field":"v","type":"quantitative","title":null},"text":{"field":"t"}}},
{"data":{"name":"left"},"mark":{"type":"text","align":"left","baseline":"middle","fontSize":11,"fontWeight":"bold","font":"Liberation Sans"},
 "encoding":{"x":{"field":"d","type":"temporal","title":null},"y":{"field":"v","type":"quantitative","title":null},"text":{"field":"t"}}},
{"data":{"name":"scaleLabels"},"mark":{"type":"text","align":"right","baseline":"middle","fontSize":12,"fontWeight":"bold","font":"Liberation Sans"},
 "encoding":{"x":{"field":"d","type":"temporal","title":null},"y":{"field":"v","type":"quantitative","title":null},"text":{"field":"t"}}},
{"data":{"name":"foot"},"mark":{"type":"text","align":"left","baseline":"middle","fontSize":11.8,"fontWeight":"bold","font":"Liberation Sans"},
 "encoding":{"x":{"field":"d","type":"temporal","title":null},"y":{"field":"v","type":"quantitative","title":null},"text":{"field":"t"}}},
{"data":{"name":"footMid"},"mark":{"type":"text","align":"left","baseline":"middle","fontSize":11,"fontWeight":"bold","font":"Liberation Sans"},
 "encoding":{"x":{"field":"d","type":"temporal","title":null},"y":{"field":"v","type":"quantitative","title":null},"text":{"field":"t"}}},
{"data":{"name":"sig"},"mark":{"type":"text","align":"left","baseline":"middle","fontSize":15,"font":"Liberation Sans"},
 "encoding":{"x":{"field":"d","type":"temporal","title":null},"y":{"field":"v","type":"quantitative","title":null},"text":{"field":"t"}}}
]},
{"layer":[
{"data":{"name":"ai"},"mark":{"type":"rule","strokeWidth":2},
 "encoding":{"x":{"field":"d","type":"temporal","title":null},
  "y":{"field":"a","type":"quantitative","title":null,"scale":{"domain":[-0.25,3.0833],"nice":false,"zero":false},"axis":null},
  "y2":{"datum":0},
  "color":{"condition":{"test":"datum.a > 0","value":"#0000ff"},"value":"#ff0000"}}},
{"data":{"name":"ai"},"mark":{"type":"line","color":"#000000","strokeWidth":1},
 "encoding":{"x":{"field":"d","type":"temporal","title":null},"y":{"field":"a","type":"quantitative","title":null}}},
{"data":{"name":"aiMa"},"mark":{"type":"line","color":"#000000","strokeWidth":1},
 "encoding":{"x":{"field":"d","type":"temporal","title":null},"y":{"field":"a","type":"quantitative","title":null}}}
]}
],
"resolve":{"scale":{"y":"independent"}}
}
